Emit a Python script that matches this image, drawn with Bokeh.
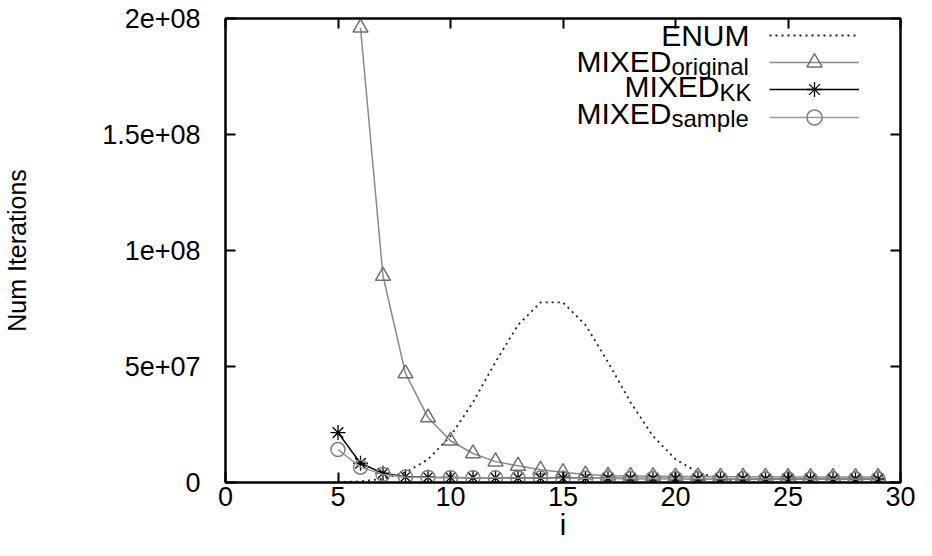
from bokeh.plotting import figure
from bokeh.models import Range1d, LinearAxis, FixedTicker, Legend, LegendItem, Label
from bokeh.embed import file_html
from bokeh.resources import INLINE

# ---------------- data ----------------
i_enum = list(range(5, 30))
enum_vals = [0.1e6, 0.5e6, 1.6e6, 4.3e6, 10.0e6, 20.0e6, 34.6e6, 51.9e6, 67.9e6, 77.6e6,
             77.6e6, 67.9e6, 51.9e6, 34.6e6, 20.0e6, 10.0e6, 4.3e6, 1.6e6, 0.5e6, 0.1e6,
             0.02e6, 0.0, 0.0, 0.0, 0.0]

i_orig = list(range(6, 30))
orig_vals = [196e6, 89e6, 47e6, 28e6, 18e6, 12.5e6, 9.0e6, 7.2e6, 5.5e6, 4.4e6,
             3.4e6, 2.9e6, 2.8e6, 2.7e6, 2.6e6, 2.6e6, 2.5e6, 2.5e6, 2.5e6, 2.4e6,
             2.4e6, 2.4e6, 2.4e6, 2.4e6]

i_kk = list(range(5, 30))
kk_vals = [21.5e6, 8.3e6, 4.0e6, 2.5e6, 2.3e6, 2.2e6, 2.1e6, 2.0e6, 2.0e6, 1.9e6,
           1.9e6, 1.8e6, 1.8e6, 1.7e6, 1.7e6, 1.7e6, 1.6e6, 1.6e6, 1.6e6, 1.5e6,
           1.5e6, 1.5e6, 1.5e6, 1.5e6, 1.5e6]

i_sample = list(range(5, 30))
sample_vals = [14.2e6, 6.6e6, 3.5e6, 2.4e6, 2.2e6, 2.1e6, 2.0e6, 2.0e6, 1.9e6, 1.9e6,
               1.8e6, 1.8e6, 1.8e6, 1.7e6, 1.7e6, 1.7e6, 1.6e6, 1.6e6, 1.6e6, 1.5e6,
               1.5e6, 1.5e6, 1.5e6, 1.5e6, 1.5e6]

x_ticks = [0, 5, 10, 15, 20, 25, 30]
y_ticks = [0, 50000000, 100000000, 150000000, 200000000]
y_tick_labels = ["0", "5e+07", "1e+08", "1.5e+08", "2e+08"]

legend_main = ["ENUM", "MIXED", "MIXED", "MIXED"]
legend_sub = ["", "original", "KK", "sample"]

x_title = "i"
y_title = "Num Iterations"

# ---------------- figure ----------------
FONT = "Liberation Sans"

p = figure(width=916, height=548, output_backend="svg", toolbar_location=None,
           x_range=Range1d(0, 30), y_range=Range1d(0, 2e8),
           min_border_left=221, min_border_right=16, min_border_top=18,
           min_border_bottom=66, x_axis_label=x_title, y_axis_label=y_title)
p.grid.visible = False
p.outline_line_color = "black"
p.outline_line_width = 2
p.background_fill_color = "white"
p.border_fill_color = "white"

xa = p.xaxis[0]
ya = p.yaxis[0]
xa.ticker = FixedTicker(ticks=x_ticks)
ya.ticker = FixedTicker(ticks=y_ticks)
ya.major_label_overrides = dict(zip(y_ticks, y_tick_labels))
for ax in (xa, ya):
    ax.major_tick_in = 10
    ax.major_tick_out = 0
    ax.minor_tick_line_color = None
    ax.axis_line_width = 2
    ax.axis_line_color = "black"
    ax.major_tick_line_width = 2
    ax.major_tick_line_color = "black"
    ax.major_label_text_font = FONT
    ax.major_label_text_font_size = "27px"
    ax.major_label_text_color = "black"
    ax.axis_label_text_font = FONT
    ax.axis_label_text_font_style = "normal"
    ax.axis_label_text_color = "black"
xa.major_label_standoff = 4
xa.axis_label_standoff = 0
xa.axis_label_text_font_size = "29px"
ya.major_label_standoff = 25
ya.axis_label_standoff = 68
ya.axis_label_text_font_size = "25px"

# mirrored ticks on top and right
top_ax = LinearAxis(ticker=FixedTicker(ticks=x_ticks))
right_ax = LinearAxis(ticker=FixedTicker(ticks=y_ticks))
for ax in (top_ax, right_ax):
    ax.major_tick_in = 10
    ax.major_tick_out = 0
    ax.minor_tick_line_color = None
    ax.axis_line_width = 2
    ax.major_tick_line_width = 2
    ax.major_label_text_font_size = "0px"
    ax.major_label_text_color = None
    ax.major_label_standoff = 0
p.add_layout(top_ax, "above")
p.add_layout(right_ax, "right")

# ---------------- series ----------------
r_enum = p.line(i_enum, enum_vals, line_color="#222222", line_width=1.8, line_dash="2 4")

r_orig_l = p.line(i_orig, orig_vals, line_color="#8a8a8a", line_width=1.5)
r_orig_m = p.scatter(i_orig, orig_vals, marker="triangle", size=15, fill_color=None,
                     line_color="#707070", line_width=1.5)

r_kk_l = p.line(i_kk, kk_vals, line_color="black", line_width=1.5)
r_kk_m = p.scatter(i_kk, kk_vals, marker="asterisk", size=15, line_color="black",
                   line_width=1.3)

r_s_l = p.line(i_sample, sample_vals, line_color="#9a9a9a", line_width=1.5)
r_s_m = p.scatter(i_sample, sample_vals, marker="circle", size=14, fill_color=None,
                  line_color="#808080", line_width=1.5)

# one legend per row so each sample sits exactly on its text row
legend_renderers = [[r_enum], [r_orig_l, r_orig_m], [r_kk_l, r_kk_m], [r_s_l, r_s_m]]
legend_bottom = [428.5, 401.5, 374.5, 346.5]
for k, rends in enumerate(legend_renderers):
    lg = Legend(items=[LegendItem(label="", renderers=rends)],
                location=(544, legend_bottom[k]), orientation="vertical",
                glyph_width=90, glyph_height=38, label_width=0, label_height=38,
                label_standoff=0, padding=0, spacing=0, margin=0,
                border_line_color=None, background_fill_alpha=0,
                label_text_font_size="1px")
    p.add_layout(lg)

# legend texts (gnuplot style: text on the left of the sample)
main_right = [524, 446, 494, 446]
main_base = [447, 421, 396, 369]
sub_base = [0, 416, 390, 364]
for k in range(len(legend_main)):
    p.add_layout(Label(x=main_right[k], y=main_base[k], x_units="screen", y_units="screen",
                       text=legend_main[k], text_align="right", text_baseline="alphabetic",
                       text_font=FONT, text_font_size="30px", text_color="black"))
    if legend_sub[k]:
        p.add_layout(Label(x=main_right[k], y=sub_base[k], x_units="screen", y_units="screen",
                           text=legend_sub[k], text_align="left", text_baseline="alphabetic",
                           text_font=FONT, text_font_size="24px", text_color="black"))

open("out.html", "w").write(file_html(p, INLINE))
